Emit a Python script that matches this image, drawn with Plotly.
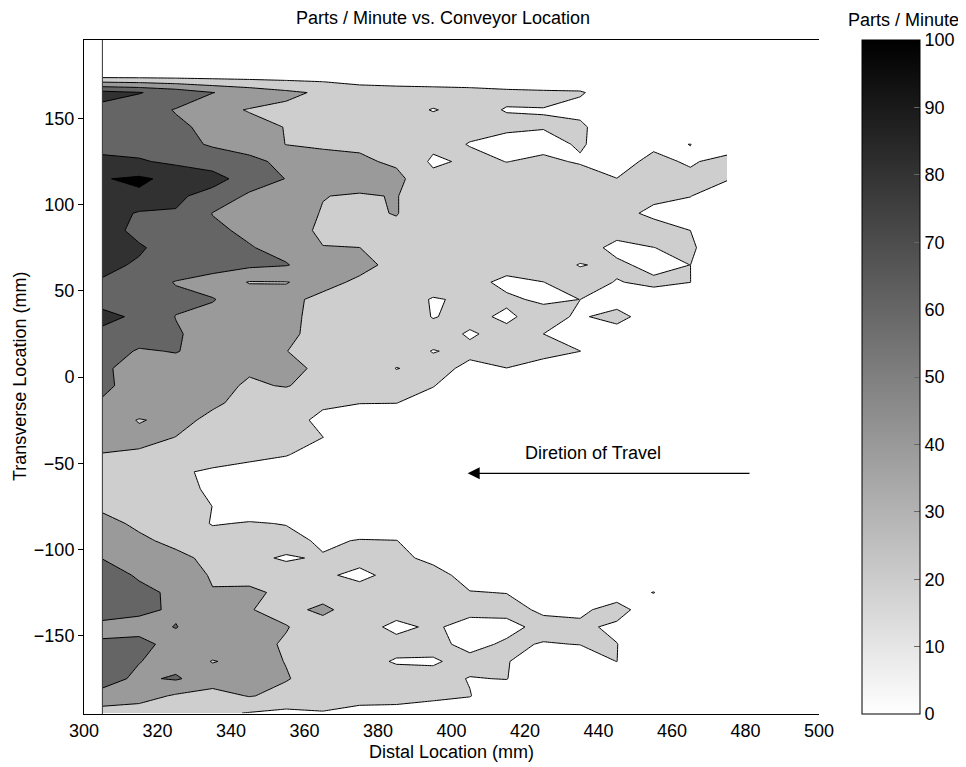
import plotly.graph_objects as go

# ---------------- data ----------------
distal_mm = [305, 315, 325, 335, 345, 355, 365, 375, 385, 395, 405, 415, 425, 435, 445, 455, 465, 475]
transverse_mm = [175, 165, 155, 145, 135, 125, 115, 105, 95, 85, 75, 65, 55, 45, 35, 25, 15, 5,
                 -5, -15, -25, -35, -45, -55, -65, -75, -85, -95, -105, -115, -125, -135, -145,
                 -155, -165, -175, -185, -195]

# parts / minute, one row per transverse location (top row = 175 mm)
parts_per_minute = [
    [10, 10, 10, 10, 10, 10, 10, 10, 10, 10, 10, 10, 10, 10, 6, 5, 5, 5],
    [86, 81, 72, 60.5, 52, 44, 37, 28, 26, 25, 24, 22.3, 21.5, 21, 14, 10, 8, 5],
    [75, 68, 59, 45, 39, 36, 30, 27, 24, 19.5, 23, 19.5, 19.8, 17, 10, 8, 6, 5],
    [70, 68, 63, 56, 45, 39.5, 33, 29, 26, 24, 23, 22.5, 20.5, 22, 12, 9, 7, 5],
    [77, 72, 66, 58, 55, 39.5, 38, 37, 30, 24, 19.5, 15, 17, 21, 15, 18.5, 20.1, 15],
    [82, 82, 76, 70, 63, 57, 45, 43, 37, 17, 23, 19.8, 22, 19, 17, 22, 19, 23],
    [99, 103, 95, 88, 70, 59.5, 55, 50, 45, 25, 24, 25, 25, 25, 20.1, 24, 22, 21],
    [92, 97, 84, 72, 57, 55, 40.5, 38, 41, 25, 23, 25, 24, 25, 24, 22, 20.3, 12],
    [90, 78, 78.5, 59.5, 52, 48, 39, 36, 41, 25, 24, 24, 24, 24, 23, 18, 15, 10],
    [88, 75, 70, 63, 57, 45, 38, 32, 35, 27, 25, 25, 25, 25, 24, 24, 20, 8],
    [87, 82, 72, 66, 61, 55, 40.3, 40.1, 33, 28, 26, 26, 25, 25, 17, 19.9, 22, 10],
    [84, 78, 72, 68, 64, 61, 50, 45, 35, 28, 26, 25, 25, 19.5, 22, 17, 20.05, 8],
    [78.5, 70, 59, 52, 39, 39.5, 45, 37, 30, 27, 24, 17, 19.9, 24, 19.5, 22, 20.1, 6],
    [72, 66, 64, 61, 50, 44, 36, 30, 27, 19, 22, 22, 18, 20.05, 12, 15, 10, 5],
    [86, 76, 59.5, 55, 50, 43, 36, 30, 27, 19.5, 23, 18, 25, 18, 26, 10, 8, 5],
    [75, 70, 62, 52, 48, 43, 35, 30, 26, 24, 19, 23, 20, 12, 12, 8, 6, 5],
    [70, 58, 61, 52, 47, 40.3, 33, 28, 25, 19.6, 22, 24, 24, 20.1, 10, 7, 5, 5],
    [62, 55, 52, 50, 42, 44, 37, 28, 19.7, 23, 18, 19.9, 15, 12, 8, 5, 5, 5],
    [63, 54, 50, 45, 38, 41, 33, 28, 25, 20.5, 12, 10, 8, 6, 5, 5, 5, 5],
    [58.5, 52, 48, 42, 36, 30, 22, 20.3, 20.2, 15, 10, 8, 6, 5, 5, 5, 5, 5],
    [50, 39, 44, 37, 32, 25, 17, 14, 12, 10, 8, 6, 5, 5, 5, 5, 5, 5],
    [45, 44, 39.8, 33, 28, 26, 20.1, 12, 10, 8, 6, 5, 5, 5, 5, 5, 5, 5],
    [39.5, 38, 34, 30, 26, 21, 12, 10, 8, 6, 5, 5, 5, 5, 5, 5, 5, 5],
    [30, 27, 23, 17, 12, 10, 8, 6, 5, 5, 5, 5, 5, 5, 5, 5, 5, 5],
    [28, 26, 24, 18, 8, 6, 5, 5, 5, 5, 5, 5, 5, 5, 5, 5, 5, 5],
    [37, 31, 26, 19.9, 12, 8, 6, 5, 5, 5, 5, 5, 5, 5, 5, 5, 5, 5],
    [45, 37, 30, 19, 21, 19.5, 15, 12, 10, 8, 6, 5, 5, 5, 5, 5, 5, 5],
    [52, 43, 36, 27, 25, 24, 18, 20.7, 20.3, 12, 10, 8, 6, 5, 5, 5, 5, 5],
    [59.5, 59.7, 44, 36, 22, 19, 21, 24, 22, 18, 12, 8, 6, 5, 5, 5, 5, 5],
    [68, 58, 52, 38, 28, 24, 22, 17, 24, 23, 17, 10, 8, 6, 5, 5, 5, 5],
    [70, 64, 57, 41, 47, 32, 30, 25, 23, 20.5, 20.3, 19.8, 15, 10, 12, 20.5, 5, 5],
    [65, 63, 58, 50, 41, 33, 45, 28, 25, 23, 24, 23, 18.5, 17, 26, 10, 5, 5],
    [57, 55, 60.5, 52, 44, 41, 30, 25, 17, 22, 15, 17, 23, 23, 17, 8, 5, 5],
    [61.4, 64, 55, 52, 46, 38, 30, 26, 24, 23, 17, 21.5, 19.5, 20.2, 20.3, 8, 5, 5],
    [68, 60.5, 54, 39, 46, 39.5, 28, 24, 19, 19, 23, 20.5, 15, 15, 20.1, 6, 5, 5],
    [66, 57, 62, 50, 45, 41, 33, 28, 25, 23, 19.6, 20.3, 12, 8, 6, 5, 5, 5],
    [55, 48, 37.6, 32.5, 41, 35, 30, 23, 22, 22, 20.3, 14, 10, 8, 6, 5, 5, 5],
    [30, 30, 27, 24, 19, 15.3, 18.7, 17.5, 18, 15, 15, 10, 8, 6, 5, 5, 5, 5],
]

contour_levels = dict(start=20, end=100, size=20)
x_ticks = [300, 320, 340, 360, 380, 400, 420, 440, 460, 480, 500]
y_ticks = [-150, -100, -50, 0, 50, 100, 150]
cbar_ticks = [0, 10, 20, 30, 40, 50, 60, 70, 80, 90, 100]

# ---------------- figure ----------------
FONT = "Liberation Sans, Arial, Helvetica, sans-serif"
FS = 18

# page body has an 8 px margin, so the figure is offset by (8, 8)
OFF = 8
L, T, PW, PH = 84 - OFF, 40 - OFF, 735, 674      # plot area in figure pixels
W, H = 966 - OFF, 767 - OFF


def px_x(page_x):
    return (page_x - 84) / PW


def px_y(page_y):
    return (714 - page_y) / PH


band_scale = [[0.0, "#ffffff"], [0.2, "#cecece"], [0.4, "#9a9a9a"],
              [0.6, "#656565"], [0.8, "#313131"], [1.0, "#000000"]]

fig = go.Figure()
fig.add_trace(go.Contour(
    x=distal_mm,
    y=transverse_mm[::-1],
    z=parts_per_minute[::-1],
    autocontour=False,
    contours=dict(coloring="fill", showlines=True, **contour_levels),
    colorscale=band_scale,
    line=dict(color="black", width=1, smoothing=0),
    showscale=False,
    hoverinfo="skip",
))

# stand-alone gray colour bar 0..100
fig.add_trace(go.Scatter(
    x=[None], y=[None], mode="markers", showlegend=False, hoverinfo="skip",
    marker=dict(
        color=[0], cmin=0, cmax=100,
        colorscale=[[0, "#ffffff"], [1, "#000000"]],
        showscale=True,
        colorbar=dict(
            x=px_x(862), xanchor="left", xpad=0, ypad=0,
            y=0.5, yanchor="middle", len=1, lenmode="fraction",
            thickness=58, outlinewidth=1, outlinecolor="black",
            tickvals=cbar_ticks, ticks="inside", ticklen=6, tickcolor="#666",
            tickfont=dict(family=FONT, size=FS, color="black"),
        ),
    ),
))

fig.update_layout(
    width=W, height=H,
    margin=dict(l=L, r=W - L - PW, t=T, b=H - T - PH, autoexpand=False),
    paper_bgcolor="white", plot_bgcolor="white",
    font=dict(family=FONT, size=FS, color="black"),
    showlegend=False,
    xaxis=dict(range=[300, 500], tickvals=x_ticks, ticks="", showgrid=False, zeroline=False,
               showline=True, linecolor="black", linewidth=1, mirror=True,
               tickfont=dict(size=FS)),
    yaxis=dict(range=[-195.5, 195.5], tickvals=y_ticks, ticks="outside", ticklen=5,
               tickcolor="black", showgrid=False, zeroline=False,
               showline=True, linecolor="black", linewidth=1, mirror=False,
               tickfont=dict(size=FS)),
)

fig.add_shape(type="line", xref="x", yref="paper", x0=305, x1=305, y0=0, y1=1,
              line=dict(color="#333333", width=1), layer="above")

fig.add_annotation(text="Parts / Minute vs. Conveyor Location", xref="paper", yref="paper",
                   x=px_x(443), y=px_y(18.5), showarrow=False,
                   xanchor="center", yanchor="middle", font=dict(size=FS))
fig.add_annotation(text="Distal Location (mm)", xref="paper", yref="paper",
                   x=px_x(451), y=px_y(752), showarrow=False,
                   xanchor="center", yanchor="middle", font=dict(size=FS))
fig.add_annotation(text="Transverse Location (mm)", xref="paper", yref="paper",
                   x=px_x(20), y=0.5, showarrow=False, textangle=-90,
                   xanchor="center", yanchor="middle", font=dict(size=FS))
fig.add_annotation(text="Parts / Minute", xref="paper", yref="paper",
                   x=px_x(904), y=px_y(20), showarrow=False,
                   xanchor="center", yanchor="middle", font=dict(size=FS))

# direction-of-travel arrow and label
fig.add_annotation(text="Diretion of Travel", x=438.6, y=-43.9, xref="x", yref="y",
                   showarrow=False, xanchor="center", yanchor="middle", font=dict(size=FS))
fig.add_annotation(text="", x=404.4, y=-55.9, ax=481.5, ay=-55.9, xref="x", yref="y",
                   axref="x", ayref="y", showarrow=True, arrowhead=2, arrowsize=2,
                   arrowwidth=1.2, arrowcolor="black")

fig.write_html("out.html")
